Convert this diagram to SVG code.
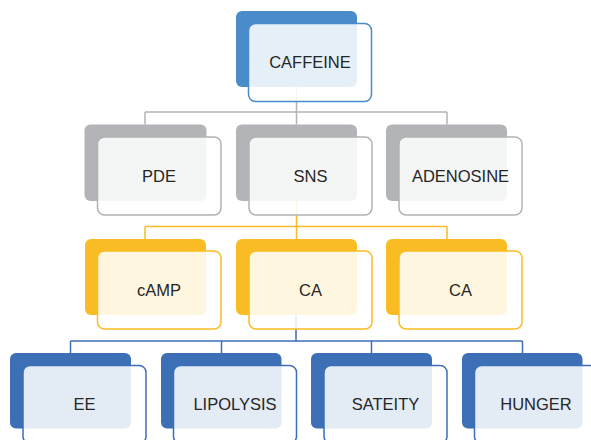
<svg xmlns="http://www.w3.org/2000/svg" width="591" height="440" viewBox="0 0 591 440">
  <style>
    .back { stroke: none; }
    .front { fill: #ffffff; fill-opacity: 0.86; stroke-width: 1.5; }
    .lbl { font-family: "Liberation Sans", Arial, sans-serif; font-size: 16.5px; fill: #262626; text-anchor: middle; }
    .c1 .back { fill: #4a8bc9; } .c1 .front { stroke: #4a8bc9; }
    .c2 .back { fill: #b3b4b7; } .c2 .front { stroke: #b1b2b5; }
    .c3 .back { fill: #fabc24; } .c3 .front { stroke: #fabc24; }
    .c4 .back { fill: #3d6fb6; } .c4 .front { stroke: #3d6fb6; }
    .wire { fill: none; stroke-width: 1.5; }
    .w-gray { stroke: #b4b4b6; }
    .w-yellow { stroke: #fabc24; }
    .w-blue { stroke: #3d6fb6; }
  </style>

  <!-- connectors (drawn first so the translucent front cards veil them) -->
  <g id="connectors">
    <path class="wire w-gray" d="M296.5 87 V112 M145 112 H447 M145 112 V124.5 M296.5 112 V124.5 M447 112 V124.5"/>
    <path class="wire w-yellow" d="M296.5 201 V226.5 M145 226.5 H447 M145 226.5 V239 M296.5 226.5 V239 M447 226.5 V239"/>
    <path class="wire w-blue" d="M296 315 V341 M70.5 341 H522.5 M70.5 341 V353 M221.5 341 V353 M371.5 341 V353 M522.5 341 V353"/>
  </g>

  <!-- level 1 -->
  <g id="node-caffeine" class="c1">
    <rect class="back" x="236" y="11" width="121" height="76" rx="6"/>
    <rect class="front" x="248.5" y="23.5" width="123" height="78" rx="7"/>
    <text class="lbl" x="310" y="68">CAFFEINE</text>
  </g>

  <!-- level 2 -->
  <g id="node-pde" class="c2">
    <rect class="back" x="84.5" y="124.5" width="122" height="76.5" rx="6"/>
    <rect class="front" x="97.5" y="137" width="123.5" height="78" rx="7"/>
    <text class="lbl" x="159" y="182">PDE</text>
  </g>
  <g id="node-sns" class="c2">
    <rect class="back" x="236" y="124.5" width="121" height="76.5" rx="6"/>
    <rect class="front" x="249" y="137" width="123" height="78" rx="7"/>
    <text class="lbl" x="310.5" y="182">SNS</text>
  </g>
  <g id="node-adenosine" class="c2">
    <rect class="back" x="386" y="124.5" width="121" height="76.5" rx="6"/>
    <rect class="front" x="399" y="137" width="123" height="78" rx="7"/>
    <text class="lbl" x="460.5" y="182">ADENOSINE</text>
  </g>

  <!-- level 3 -->
  <g id="node-camp" class="c3">
    <rect class="back" x="85" y="239" width="121" height="76" rx="6"/>
    <rect class="front" x="97.5" y="251" width="123.5" height="78" rx="7"/>
    <text class="lbl" x="159" y="296">cAMP</text>
  </g>
  <g id="node-ca-1" class="c3">
    <rect class="back" x="236" y="239" width="121" height="76" rx="6"/>
    <rect class="front" x="249" y="251" width="123" height="78" rx="7"/>
    <text class="lbl" x="310.5" y="296">CA</text>
  </g>
  <g id="node-ca-2" class="c3">
    <rect class="back" x="386" y="239" width="121" height="76" rx="6"/>
    <rect class="front" x="399" y="251" width="123" height="78" rx="7"/>
    <text class="lbl" x="460.5" y="296">CA</text>
  </g>

  <!-- level 4 -->
  <g id="node-ee" class="c4">
    <rect class="back" x="10" y="353" width="121" height="75.5" rx="6"/>
    <rect class="front" x="23" y="365.5" width="123" height="78" rx="7"/>
    <text class="lbl" x="84.5" y="410">EE</text>
  </g>
  <g id="node-lipolysis" class="c4">
    <rect class="back" x="161" y="353" width="120.5" height="75.5" rx="6"/>
    <rect class="front" x="173.5" y="365.5" width="123" height="78" rx="7"/>
    <text class="lbl" x="235" y="410">LIPOLYSIS</text>
  </g>
  <g id="node-sateity" class="c4">
    <rect class="back" x="311" y="353" width="121" height="75.5" rx="6"/>
    <rect class="front" x="324" y="365.5" width="123" height="78" rx="7"/>
    <text class="lbl" x="385.5" y="410">SATEITY</text>
  </g>
  <g id="node-hunger" class="c4">
    <rect class="back" x="462" y="353" width="120.5" height="75.5" rx="6"/>
    <rect class="front" x="474.5" y="365.5" width="123" height="78" rx="7"/>
    <text class="lbl" x="536" y="410">HUNGER</text>
  </g>
</svg>
